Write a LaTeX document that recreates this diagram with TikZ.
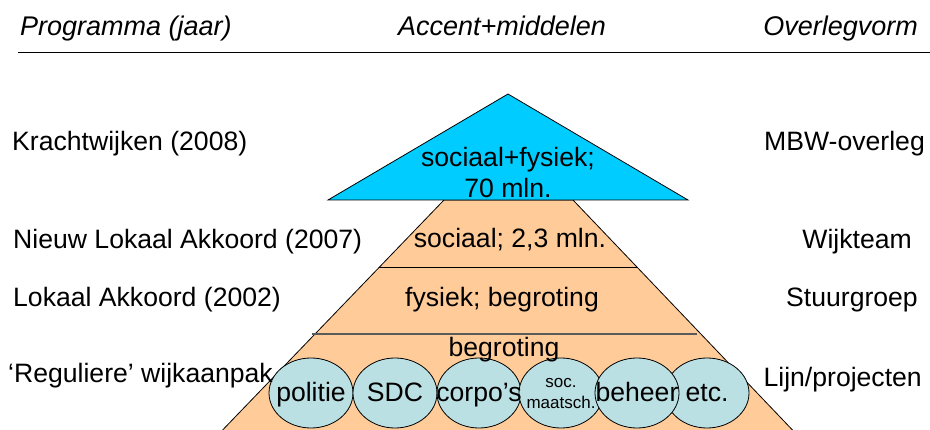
\documentclass[tikz,border=0pt]{standalone}
\usepackage{fontspec}
\setmainfont{Liberation Sans}
\usepackage{tikz}
\usetikzlibrary{shapes.geometric}
\definecolor{mycyan}{RGB}{0, 204, 255}
\definecolor{myorange}{RGB}{255, 204, 153}
\definecolor{myteal}{RGB}{187, 224, 227}
\definecolor{mygray}{RGB}{90, 90, 90}

\begin{document}
\begin{tikzpicture}[
    x = 1pt, y = -1pt,
    lbl/.style = {inner sep = 0pt, font = \fontsize{26.6}{31}\selectfont},
    hdr/.style = {lbl, font = \fontsize{27}{31}\selectfont\itshape},
    small/.style = {inner sep = 0pt, font = \fontsize{17}{21}\selectfont},
    org/.style = {ellipse, draw, fill = myteal, line width = 0.8pt, inner sep = 0pt, minimum width = 84pt, minimum height = 70pt}
]
\useasboundingbox (0,0) rectangle (930,430);
\clip (0,0) rectangle (930,430);

% header
\node[hdr, anchor = base west] (prog) at (20,36) {Programma (jaar)};
\node[hdr, anchor = base] (accent) at (502,36) {Accent+middelen};
\node[hdr, anchor = base east] (overleg) at (918,36) {Overlegvorm};
\coordinate (hl) at (18,52.5);
\coordinate (hr) at (930,52.5);
\draw[line width = 1pt] (hl) -- (hr);

% pyramid
\coordinate (tl) at (444,200);
\coordinate (tr) at (573,200);
\coordinate (bl) at (213,440);
\coordinate (br) at (802,440);
\draw[fill = myorange, line width = 0.8pt] (tl) -- (tr) -- (br) -- (bl) -- cycle;
\draw[line width = 0.8pt] (379,267) -- (637,267);
\draw[mygray, line width = 1.3pt] (312,334) -- (697,334);

\coordinate (apex) at (508,94);
\coordinate (lb) at (328,200);
\coordinate (rb) at (688,200);
\draw[fill = mycyan, line width = 0.8pt] (apex) -- (rb) -- (lb) -- cycle;

% organisations
\foreach \n/\x in {politie/311, sdc/395, corpo/479, soc/561, etc/707, beheer/637}
  \node[org] (\n) at (\x,393) {};
\foreach \n/\t in {politie/politie, sdc/SDC, corpo/corpo’s, beheer/beheer, etc/etc.}
  \node[lbl, anchor = base, yshift = -9pt] (t\n) at (\n.center) {\t};
\node[small, anchor = base, yshift = 5pt] (tsoc1) at (soc.center) {soc.};
\node[small, anchor = base, yshift = -16pt] (tsoc2) at (soc.center) {maatsch.};

% accent + middelen
\node[lbl, anchor = base] (kw) at (508,167) {sociaal+fysiek;};
\node[lbl, anchor = base] (kwb) at (508,198) {70 mln.};
\node[lbl, anchor = base] (nla) at (510,248) {sociaal; 2,3 mln.};
\node[lbl, anchor = base] (la) at (502,307) {fysiek; begroting};
\node[lbl, anchor = base] (reg) at (504,357) {begroting};

% programma
\node[lbl, anchor = base west] (p1) at (12,151) {Krachtwijken (2008)};
\node[lbl, anchor = base west] (p2) at (13,249) {Nieuw Lokaal Akkoord (2007)};
\node[lbl, anchor = base west] (p3) at (13,307) {Lokaal Akkoord (2002)};
\node[lbl, anchor = base west] (p4) at (8,383) {‘Reguliere’ wijkaanpak};

% overlegvorm
\node[lbl, anchor = base east] (o1) at (925,151) {MBW-overleg};
\node[lbl, anchor = base east] (o2) at (912,249) {Wijkteam};
\node[lbl, anchor = base east] (o3) at (918,307) {Stuurgroep};
\node[lbl, anchor = base east] (o4) at (922,387) {Lijn/projecten};

\end{tikzpicture}
\end{document}
